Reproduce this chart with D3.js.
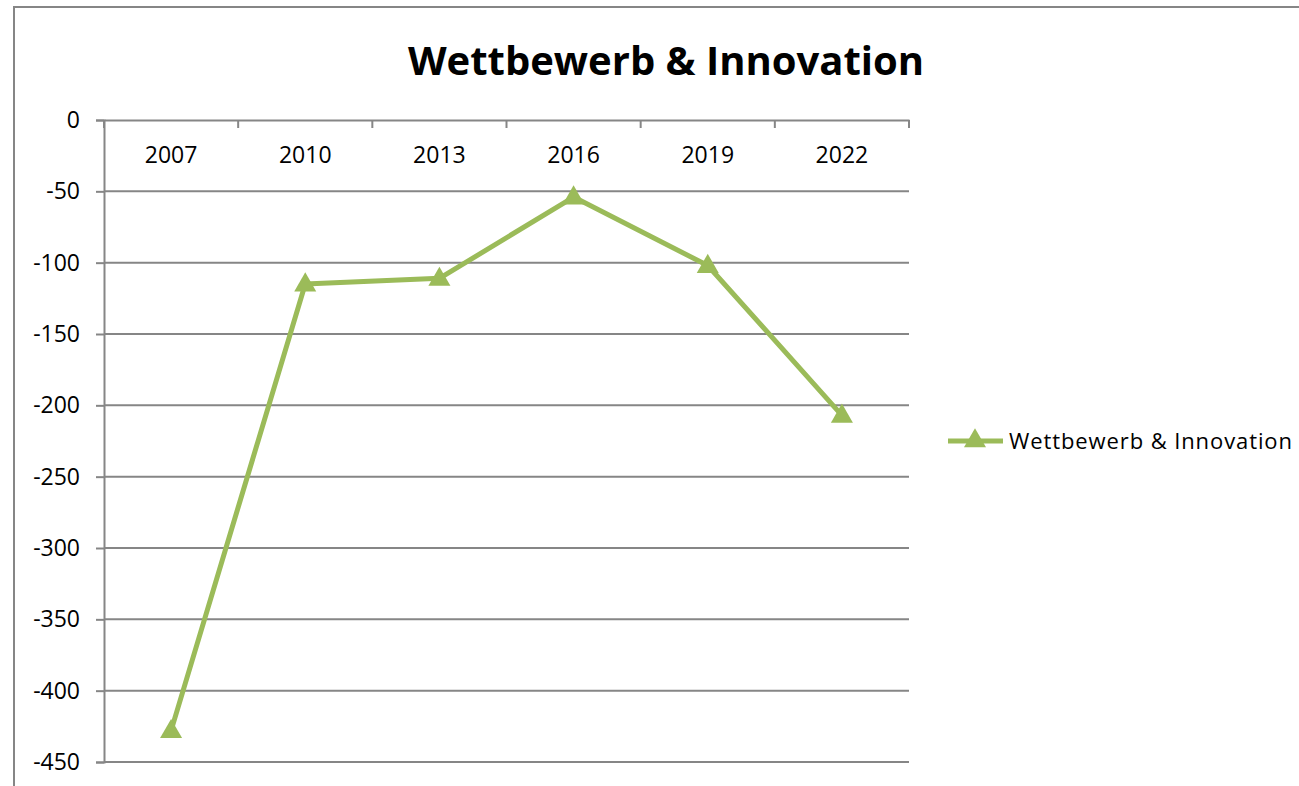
<!DOCTYPE html>
<html>
<head>
<meta charset="utf-8">
<script src="https://cdn.jsdelivr.net/npm/d3@7"></script>
<style>
  body { margin: 0; background: #fff; }
  svg { display: block; }
  .tick text { font-family: "Open Sans", sans-serif; fill: #000; }
</style>
</head>
<body>
<svg id="chart" width="1299" height="786"></svg>
<script>
var years = ["2007", "2010", "2013", "2016", "2019", "2022"];
var values = [-428, -115, -111, -54, -102, -207];
var yTicks = [0, -50, -100, -150, -200, -250, -300, -350, -400, -450];
var seriesName = "Wettbewerb & Innovation";

var green = "#9bbb59", grid = "#868686";

var svg = d3.select("#chart");

// outer chart frame (cut off on the right and bottom like the screenshot)
svg.append("rect")
  .attr("x", 14).attr("y", 7)
  .attr("width", 1400).attr("height", 900)
  .attr("fill", "none").attr("stroke", grid).attr("stroke-width", 2);

var plotL = 104, plotR = 909, plotT = 120, plotB = 762;

var x = d3.scaleBand().domain(years).range([plotL, plotR]);
var y = d3.scaleLinear().domain([-450, 0]).range([plotB, plotT]);

// gridlines
svg.append("g").selectAll("line")
  .data(yTicks.filter(function(d) { return d !== 0; }))
  .join("line")
  .attr("x1", plotL).attr("x2", plotR)
  .attr("y1", function(d) { return y(d); })
  .attr("y2", function(d) { return y(d); })
  .attr("stroke", grid).attr("stroke-width", 2);

// y axis (plain hyphen for negatives, like Excel)
var yAxis = d3.axisLeft(y).tickValues(yTicks).tickSize(8).tickPadding(16)
  .tickFormat(function(d) { return String(d); });
var gy = svg.append("g").attr("transform", "translate(" + plotL + ",0)").call(yAxis);
gy.select(".domain").attr("stroke", grid).attr("stroke-width", 2);
gy.selectAll(".tick line").attr("stroke", grid).attr("stroke-width", 2);
gy.selectAll(".tick text").style("font-size", "23px");

// category axis sits at zero, labels below, ticks pointing down at band edges
var xAxis = d3.axisBottom(x).tickSize(0).tickPadding(27);
var gx = svg.append("g").attr("transform", "translate(0," + y(0) + ")").call(xAxis);
gx.select(".domain").attr("stroke", grid).attr("stroke-width", 2);
gx.selectAll(".tick text").style("font-size", "23px");

var edges = years.map(function(d) { return x(d); }).concat([plotR]);
gx.selectAll(".edge").data(edges).join("line")
  .attr("class", "edge")
  .attr("x1", function(d) { return d; }).attr("x2", function(d) { return d; })
  .attr("y1", 0).attr("y2", 8)
  .attr("stroke", grid).attr("stroke-width", 2);

// series
var pts = years.map(function(d, i) { return [x(d) + x.bandwidth() / 2, y(values[i])]; });

svg.append("path")
  .datum(pts)
  .attr("d", d3.line())
  .attr("fill", "none")
  .attr("stroke", green)
  .attr("stroke-width", 5)
  .attr("stroke-linejoin", "round");

var tri = d3.symbol().type(d3.symbolTriangle).size(210);
svg.append("g").selectAll("path")
  .data(pts)
  .join("path")
  .attr("d", tri)
  .attr("transform", function(d) { return "translate(" + d[0] + "," + (d[1] + 1) + ")"; })
  .attr("fill", green);

// title
svg.append("text")
  .attr("x", 666).attr("y", 75)
  .attr("text-anchor", "middle")
  .style("font-family", "Open Sans, sans-serif")
  .style("font-weight", "bold")
  .style("font-size", "40px")
  .text(seriesName);

// legend
var lg = svg.append("g").attr("transform", "translate(948,441)");
lg.append("line").attr("x1", 0).attr("x2", 55)
  .attr("stroke", green).attr("stroke-width", 5);
lg.append("path").attr("d", tri).attr("transform", "translate(27,0)").attr("fill", green);
lg.append("text")
  .attr("x", 61).attr("y", 8)
  .style("font-family", "Open Sans, sans-serif")
  .style("font-size", "22px")
  .style("letter-spacing", "0.9px")
  .text(seriesName);
</script>
</body>
</html>
